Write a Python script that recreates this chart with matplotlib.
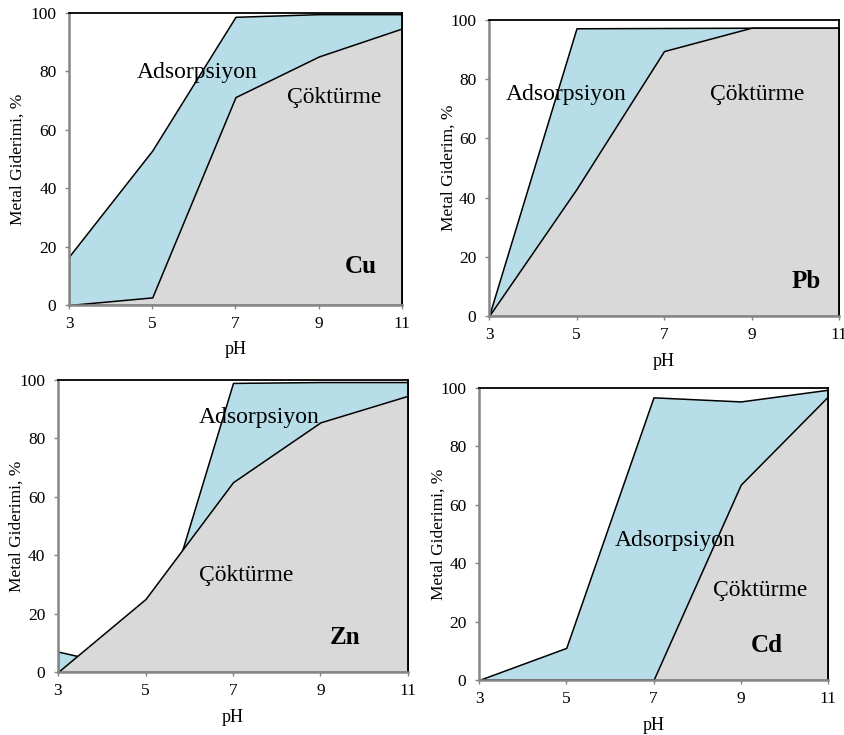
import matplotlib
matplotlib.use("Agg")
import matplotlib.pyplot as plt

plt.rcParams["font.family"] = ["Liberation Serif", "DejaVu Serif"]

ph = [3, 5, 7, 9, 11]

# toplam giderim (adsorpsiyon + çöktürme) ve yalnız çöktürme, %
cu_total = [16.6, 52.9, 98.7, 99.6, 99.6]
cu_prec = [0.0, 2.6, 71.2, 85.1, 94.7]
pb_total = [0.0, 97.2, 97.3, 97.4, 97.4]
pb_prec = [0.0, 42.9, 89.5, 97.4, 97.4]
zn_total = [7.0, 0.2, 99.0, 99.3, 99.3]
zn_prec = [0.0, 25.0, 65.0, 85.5, 94.6]
cd_total = [0.0, 11.0, 96.8, 95.4, 99.4]
cd_prec = [0.0, 0.0, 0.0, 66.9, 97.1]

metals = ["Cu", "Pb", "Zn", "Cd"]
ylabels = ["Metal Giderimi, %", "Metal Giderim, %", "Metal Giderimi, %", "Metal Giderimi, %"]

# eksen yerleşimi (piksel): sol, üst, sağ, alt
boxes = [(69, 13, 402, 305), (489, 20, 839, 316), (58, 380, 408, 672), (479, 388, 828, 680)]
# yazı konumları (veri koordinatı, sol-taban)
ads_pos = [(4.63, 77.8), (3.38, 73.1), (6.22, 85.3), (6.11, 46.0)]
cok_pos = [(8.24, 69.2), (8.05, 73.1), (6.22, 31.3), (8.36, 28.6)]
name_pos = [(9.63, 11.1), (9.92, 9.6), (9.21, 9.5), (9.24, 9.7)]
ylab_off = [51, 40, 41, 40]

W, H = 845, 735
BLUE = "#b7dde8"
GRAY = "#d9d9d9"
AXC = "#868686"

fig = plt.figure(figsize=(W / 100, H / 100), dpi=100)

series = [(cu_total, cu_prec), (pb_total, pb_prec), (zn_total, zn_prec), (cd_total, cd_prec)]
for i, (tot, prec) in enumerate(series):
    l, t, r, b = boxes[i]
    ax = fig.add_axes([l / W, (H - b) / H, (r - l) / W, (b - t) / H])
    ax.fill_between(ph, 0, tot, facecolor=BLUE, edgecolor="black", lw=1.1, zorder=1)
    ax.fill_between(ph, 0, prec, facecolor=GRAY, edgecolor="black", lw=1.1, zorder=2)
    ax.set_xlim(3, 11)
    ax.set_ylim(0, 100)
    ax.set_xticks(ph)
    ax.set_yticks(range(0, 101, 20))
    ax.tick_params(direction="out", length=3, width=1, color=AXC, labelsize=12.5)
    ax.tick_params(axis="x", pad=5)
    ax.tick_params(axis="y", pad=6)
    for s in ("left", "bottom"):
        ax.spines[s].set_color(AXC)
        ax.spines[s].set_linewidth(1.8)
        ax.spines[s].set_zorder(5)
    for s in ("top", "right"):
        ax.spines[s].set_color("black")
        ax.spines[s].set_linewidth(1.3)
        ax.spines[s].set_zorder(5)
    ax.set_xlabel("pH", fontsize=13)
    ax.xaxis.set_label_coords(0.5, -45 / (b - t))
    ax.xaxis.label.set_va("center")
    ax.set_ylabel(ylabels[i], fontsize=12.5, va="center")
    ax.yaxis.set_label_coords(-ylab_off[i] / (r - l), 0.5)
    ax.text(*ads_pos[i], "Adsorpsiyon", fontsize=17, ha="left", va="baseline", zorder=6)
    ax.text(*cok_pos[i], "Çöktürme", fontsize=17, ha="left", va="baseline", zorder=6)
    ax.text(*name_pos[i], metals[i], fontsize=18, fontweight="bold", ha="left", va="baseline", zorder=6)

fig.savefig("out.png", dpi=100)
